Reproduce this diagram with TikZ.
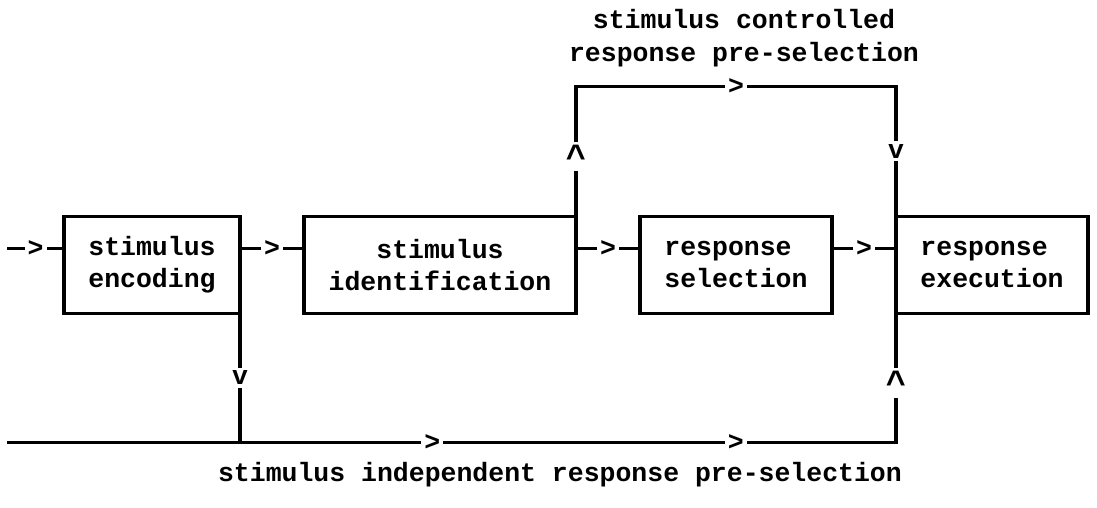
\documentclass[tikz,border=0pt]{standalone}
\usepackage{fontspec}
\setmainfont{Liberation Mono}
\begin{document}
\begin{tikzpicture}[x=16pt, y=-32.36pt, line width=3.2pt]
	\tikzstyle{every node} = [font=\fontsize{26.5}{32.36}\selectfont\bfseries, inner sep=0pt]
	\tikzstyle{stagebox} = [draw, outer sep=0pt, minimum height=97.08pt, align=left]
	\tikzstyle{arrowchar} = [fill=white, inner sep=3pt]
	\tikzstyle{upchar} = [arrowchar, yshift=-5pt, font=\fontsize{34}{34}\selectfont\bfseries]
	\useasboundingbox (-1, 0.32) rectangle (67.5625, 15.99);
	\node[stagebox, minimum width=176pt] (Encoding) at (8.5, 8.5) {stimulus\\encoding};
	\node[stagebox, minimum width=272pt, align=center] (Identification) at (26.5, 8.5) {stimulus\\identification};
	\node[stagebox, minimum width=192pt] (Selection) at (45, 8.5) {response\\selection};
	\node[stagebox, minimum width=192pt] (Execution) at (61, 8.5) {response\\execution};
	\node[align=center] (CtrlLabel) at (45.5, 1.5) {stimulus controlled\\response pre-selection};
	\node (IndepLabel) at (34, 15) {stimulus independent response pre-selection};
	\coordinate (In) at (-0.55, 8);
	\coordinate (Ctrl) at (45, 3);
	\coordinate (Indep) at (-0.55, 14);
	\draw (In) -- node[arrowchar] {>} (Encoding.west |- In);
	\draw (Encoding.east |- In) -- node[arrowchar] {>} (Identification.west |- In);
	\draw (Identification.east |- In) -- node[arrowchar] {>} (Selection.west |- In);
	\draw (Selection.east |- In) -- node[arrowchar] {>} (Execution.west |- In);
	\draw (Identification.north east) |- node[upchar, pos=.25] {\textasciicircum} (Ctrl) node[arrowchar] {>} -| node[arrowchar, pos=.75] {v} (Execution.north west);
	\draw (Encoding.south east) -- node[arrowchar] {v} (Encoding.south east |- Indep);
	\draw (Indep) -- (Indep -| Encoding.south east) -- node[arrowchar, pos=.293] {>} node[arrowchar, pos=.756] {>} (Indep -| Execution.south west) -- node[upchar] {\textasciicircum} (Execution.south west);
\end{tikzpicture}
\end{document}
